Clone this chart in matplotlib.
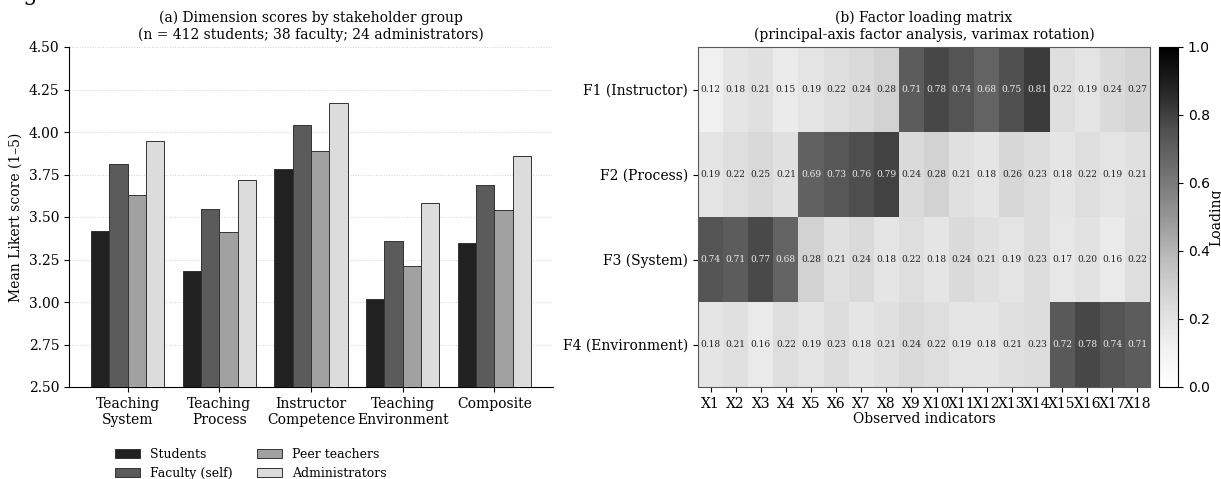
import numpy as np
import matplotlib
matplotlib.use("Agg")
import matplotlib.pyplot as plt

plt.rcParams["font.family"] = "DejaVu Serif"
plt.rcParams["font.size"] = 10

# panel (a): mean dimension scores by stakeholder group
dimensions = ["Teaching\nSystem", "Teaching\nProcess", "Instructor\nCompetence",
              "Teaching\nEnvironment", "Composite"]
groups = ["Students", "Faculty (self)", "Peer teachers", "Administrators"]
students = [3.42, 3.18, 3.78, 3.02, 3.35]
faculty = [3.81, 3.55, 4.04, 3.36, 3.69]
peers = [3.63, 3.41, 3.89, 3.21, 3.54]
admins = [3.95, 3.72, 4.17, 3.58, 3.86]
group_colors = ["#212121", "#5b5b5b", "#a1a1a1", "#dcdcdc"]

# panel (b): factor loadings
factors = ["F1 (Instructor)", "F2 (Process)", "F3 (System)", "F4 (Environment)"]
indicators = [f"X{i}" for i in range(1, 19)]
f1 = [0.12, 0.18, 0.21, 0.15, 0.19, 0.22, 0.24, 0.28, 0.71, 0.78, 0.74, 0.68, 0.75, 0.81, 0.22, 0.19, 0.24, 0.27]
f2 = [0.19, 0.22, 0.25, 0.21, 0.69, 0.73, 0.76, 0.79, 0.24, 0.28, 0.21, 0.18, 0.26, 0.23, 0.18, 0.22, 0.19, 0.21]
f3 = [0.74, 0.71, 0.77, 0.68, 0.28, 0.21, 0.24, 0.18, 0.22, 0.18, 0.24, 0.21, 0.19, 0.23, 0.17, 0.20, 0.16, 0.22]
f4 = [0.18, 0.21, 0.16, 0.22, 0.19, 0.23, 0.18, 0.21, 0.24, 0.22, 0.19, 0.18, 0.21, 0.23, 0.72, 0.78, 0.74, 0.71]

W, H = 1221, 479
fig = plt.figure(figsize=(W / 100, H / 100), dpi=100)


def px(left, top, right, bottom):
    return [left / W, 1 - bottom / H, (right - left) / W, (bottom - top) / H]


fig.text(2 / W, 1.0, "Fig", fontsize=16, va="baseline", ha="left")

# bar chart
ax = fig.add_axes(px(69, 47, 553, 387))
series = [students, faculty, peers, admins]
x = np.arange(len(dimensions))
width = 0.2
for i, (vals, name, col) in enumerate(zip(series, groups, group_colors)):
    ax.bar(x + (i - 1.5) * width, vals, width, color=col, edgecolor="0.2",
           linewidth=0.7, label=name, zorder=3)
ax.set_ylim(2.5, 4.5)
ax.set_yticks(np.arange(2.5, 4.51, 0.25))
ax.yaxis.set_major_formatter(matplotlib.ticker.FormatStrFormatter("%.2f"))
ax.set_xticks(x, labels=dimensions)
ax.grid(axis="y", linestyle=":", color="0.82", linewidth=0.7, zorder=0)
ax.spines["top"].set_visible(False)
ax.spines["right"].set_visible(False)
ax.set_ylabel("Mean Likert score (1–5)")
ax.set_title("(a) Dimension scores by stakeholder group\n"
             "(n = 412 students; 38 faculty; 24 administrators)", fontsize=10)
ax.legend(loc="upper center", bbox_to_anchor=(0.376, -0.145), ncol=2, frameon=False,
          fontsize=9)

# loading heatmap
hx = fig.add_axes(px(698, 47, 1150, 387))
loadings = np.array([f1, f2, f3, f4])
im = hx.imshow(loadings, cmap="Greys", vmin=0, vmax=1, aspect="auto",
               interpolation="nearest")
for r in range(loadings.shape[0]):
    for c in range(loadings.shape[1]):
        v = loadings[r, c]
        hx.text(c, r, f"{v:.2f}", ha="center", va="center", fontsize=6.5,
                color="#eeeeee" if v > 0.5 else "#222222")
hx.set_xticks(np.arange(len(indicators)), labels=indicators)
hx.set_yticks(np.arange(len(factors)), labels=factors)
hx.set_xlabel("Observed indicators", labelpad=1)
hx.set_title("(b) Factor loading matrix\n"
             "(principal-axis factor analysis, varimax rotation)", fontsize=10)
for s in hx.spines.values():
    s.set_color("0.35")

cax = fig.add_axes(px(1159, 47, 1178, 387))
cb = fig.colorbar(im, cax=cax)
cb.set_ticks([0, 0.2, 0.4, 0.6, 0.8, 1.0])
for t in cax.get_yticklabels():
    t.set_fontfamily("DejaVu Sans")
cb.set_label("Loading", labelpad=0)

fig.savefig("out.png", dpi=100)
